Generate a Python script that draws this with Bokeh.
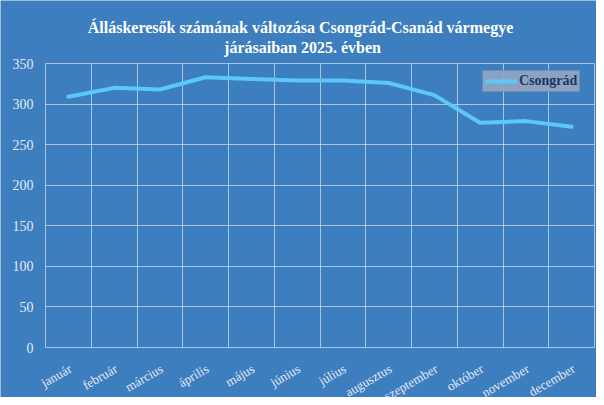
from bokeh.plotting import figure
from bokeh.models import FixedTicker, Legend, LegendItem, ColumnDataSource
from bokeh.core.properties import value
from bokeh.embed import file_html
from bokeh.resources import INLINE
import math

title_lines = ["Álláskeresők számának változása  Csongrád-Csanád vármegye",
               "járásaiban 2025. évben"]
months = ["január", "február", "március", "április", "május", "június",
          "július", "augusztus", "szeptember", "október", "november", "december"]
values = [309, 320, 318, 333, 331, 329, 329, 326, 311, 277, 279, 272]
y_ticks = [0, 50, 100, 150, 200, 250, 300, 350]

BG = "#3d7ebf"
LINE = "#5bc8f7"
TXT = "#e3eaf4"

xs = [i + 0.5 for i in range(len(months))]

W, H = 596, 397
TOP, LEFT, RIGHT = 63, 45, 2
PLOT_H = 284
PLOT_W = W - LEFT - RIGHT
Y_MAX = 350
N = len(months)
ypp = Y_MAX / PLOT_H       # data units per pixel (y)
xpp = N / PLOT_W           # data units per pixel (x)
y_min = -(H - TOP - PLOT_H) * ypp
y_max = Y_MAX + TOP * ypp
x_min = -LEFT * xpp
x_max = N + RIGHT * xpp

p = figure(width=W, height=H, output_backend="svg", toolbar_location=None,
           x_range=(x_min, x_max), y_range=(y_min, y_max))
p.background_fill_color = BG
p.border_fill_color = BG
p.min_border = 0
p.outline_line_color = None
p.xaxis.visible = False
p.yaxis.visible = False

p.xgrid.ticker = FixedTicker(ticks=list(range(0, N + 1)))
p.xgrid.cross_bounds = (0, Y_MAX)
p.ygrid.ticker = FixedTicker(ticks=y_ticks)
p.ygrid.cross_bounds = (0, N)
for g in (p.xgrid, p.ygrid):
    g.grid_line_color = "white"
    g.grid_line_alpha = 0.55
    g.grid_line_width = 1

r = p.line(xs, values, line_color=LINE, line_width=4, line_join="round", line_cap="round")

FONT = value("Liberation Serif")

# y tick labels
ysrc = ColumnDataSource(dict(x=[0] * len(y_ticks), y=y_ticks, t=[str(v) for v in y_ticks]))
p.text(x="x", y="y", text="t", source=ysrc, text_align="right", text_baseline="middle",
       x_offset=-12, text_font=FONT, text_font_size="14px", text_color=TXT)

# month labels (rotated) below the 0 line
src = ColumnDataSource(dict(x=xs, y=[0] * len(xs), t=months))
p.text(x="x", y="y", text="t", source=src, angle=math.pi / 6,
       text_align="right", text_baseline="middle", x_offset=2, y_offset=20,
       text_font=FONT, text_font_size="13px", text_color=TXT)

# title (two centred lines)
tx = x_min + 302 * xpp
tsrc = ColumnDataSource(dict(x=[tx, tx], y=[Y_MAX + (TOP - 27) * ypp, Y_MAX + (TOP - 47) * ypp],
                             t=title_lines))
p.text(x="x", y="y", text="t", source=tsrc, text_align="center", text_baseline="middle",
       text_font=FONT, text_font_size="16px", text_font_style="bold", text_color="white")

legend = Legend(items=[LegendItem(label="Csongrád", renderers=[r])], location=(482, 305))
legend.margin = 0
legend.padding = 2
legend.spacing = 0
legend.glyph_width = 32
legend.glyph_height = 16
legend.label_height = 16
legend.label_standoff = 2
legend.label_text_font = "Liberation Serif"
legend.label_text_font_size = "14px"
legend.label_text_font_style = "bold"
legend.label_text_color = "#1f3760"
legend.background_fill_color = "#8ea5c3"
legend.background_fill_alpha = 0.95
legend.border_line_color = "#6d86a8"
legend.border_line_alpha = 0.8
p.add_layout(legend, "center")

open("out.html", "w").write(file_html(p, INLINE))
